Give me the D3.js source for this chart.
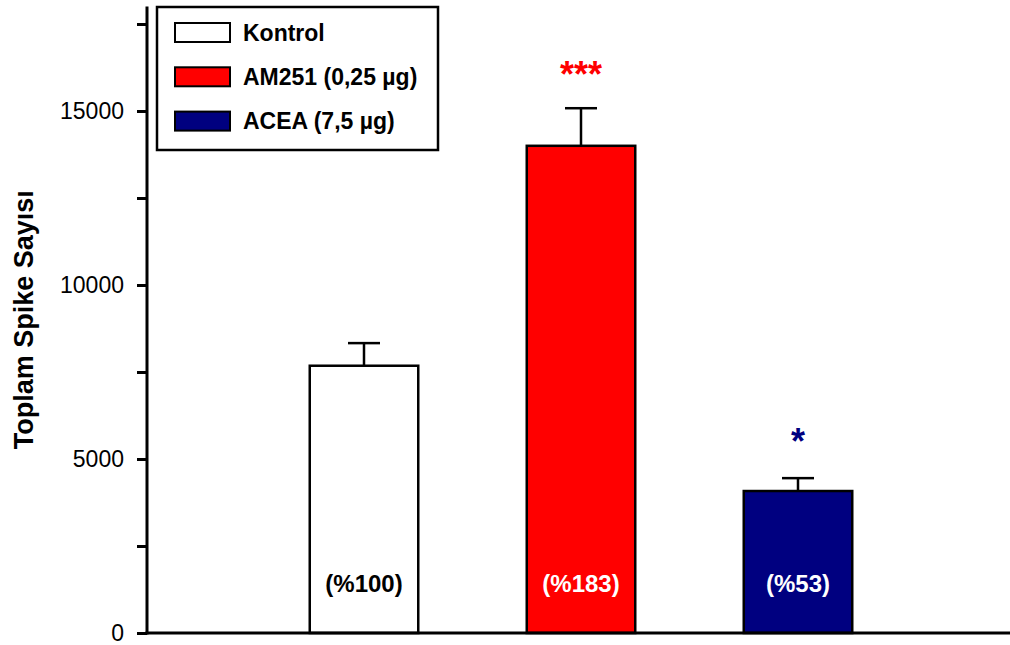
<!DOCTYPE html>
<html><head><meta charset="utf-8">
<script src="https://cdn.jsdelivr.net/npm/d3@7"></script>
<style>body{margin:0;background:#fff;} svg{display:block;font-family:"Liberation Sans",Arial,sans-serif;}</style>
</head><body><svg id="c" width="1010" height="645"></svg>
<script>
const categories = ["Kontrol", "AM251 (0,25 µg)", "ACEA (7,5 µg)"];
const means = [7680, 14000, 4080];
const errors = [650, 1080, 370];
const percentLabels = ["(%100)", "(%183)", "(%53)"];
const stars = ["", "***", "*"];
const colors = ["#ffffff", "#ff0000", "#000080"];
const labelColors = ["#000000", "#ffffff", "#ffffff"];
const starColors = ["#000000", "#ff0000", "#000080"];
const majorTicks = [0, 5000, 10000, 15000];
const minorTicks = [2500, 7500, 12500, 17500];

const svg = d3.select("#c");
const y = d3.scaleLinear().domain([0, 18000]).range([633, 6.6]);
const x = d3.scalePoint().domain(categories).range([147, 1015]).padding(1);
const bw = x.step() * 0.5;

categories.forEach((c, i) => {
  const cx = x(c);
  svg.append("line").attr("x1", cx).attr("x2", cx).attr("y1", y(means[i])).attr("y2", y(means[i] + errors[i]))
    .attr("stroke", "#000").attr("stroke-width", 2.5);
  svg.append("line").attr("x1", cx - 16).attr("x2", cx + 16).attr("y1", y(means[i] + errors[i])).attr("y2", y(means[i] + errors[i]))
    .attr("stroke", "#000").attr("stroke-width", 2.5);
  svg.append("rect").attr("x", cx - bw / 2).attr("y", y(means[i])).attr("width", bw).attr("height", y(0) - y(means[i]))
    .attr("fill", colors[i]).attr("stroke", "#000").attr("stroke-width", 2.5);
  svg.append("text").attr("x", cx).attr("y", y(0) - 41).attr("text-anchor", "middle")
    .attr("font-size", 24).attr("font-weight", "bold").attr("fill", labelColors[i]).text(percentLabels[i]);
  if (stars[i]) {
    svg.append("text").attr("x", cx).attr("y", y(means[i] + errors[i]) - (i === 2 ? 24 : 21)).attr("text-anchor", "middle")
      .attr("font-size", 36).attr("font-weight", "bold").attr("fill", starColors[i]).text(stars[i]);
  }
});

const gy = svg.append("g").attr("transform", "translate(147,0)");
gy.call(d3.axisLeft(y).tickValues(majorTicks).tickSize(10).tickSizeOuter(0).tickPadding(13).tickFormat(d3.format("d")));
gy.append("g").call(d3.axisLeft(y).tickValues(minorTicks).tickSize(10).tickSizeOuter(0).tickFormat(""));
gy.selectAll(".tick line").attr("stroke-width", 3).attr("stroke", "#000");
gy.selectAll(".tick text").attr("font-size", 23).attr("font-family", "Liberation Sans, Arial, sans-serif").attr("fill", "#000");
gy.selectAll(".domain").remove();
svg.append("line").attr("x1", 147).attr("x2", 147).attr("y1", y(0) + 1.5).attr("y2", y(18000)).attr("stroke", "#000").attr("stroke-width", 3);

svg.append("line").attr("x1", 145.5).attr("x2", 1010).attr("y1", y(0)).attr("y2", y(0)).attr("stroke", "#000").attr("stroke-width", 3);

svg.append("text").attr("transform", `translate(33,${(y(0) + y(18000)) / 2}) rotate(-90)`)
  .attr("text-anchor", "middle").attr("font-size", 27).attr("font-weight", "bold").text("Toplam Spike Sayısı");

const lg = svg.append("g");
lg.append("rect").attr("x", 157).attr("y", 7).attr("width", 281).attr("height", 143).attr("fill", "#fff").attr("stroke", "#000").attr("stroke-width", 2.5);
categories.forEach((c, i) => {
  const yy = 32.5 + i * 44.3;
  lg.append("rect").attr("x", 175).attr("y", yy - 9.5).attr("width", 55).attr("height", 19)
    .attr("fill", colors[i]).attr("stroke", "#000").attr("stroke-width", 2);
  lg.append("text").attr("x", 243).attr("y", yy + 8).attr("font-size", 23).attr("font-weight", "bold").text(c);
});
</script></body></html>
